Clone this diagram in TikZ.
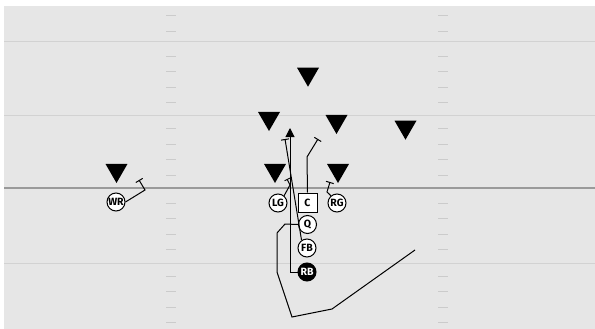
\documentclass[tikz,border=0pt]{standalone}
\usepackage{fontspec}
\setmainfont{Fira Sans}
\usetikzlibrary{arrows.meta,shapes.geometric}
\definecolor{fieldbg}{HTML}{E6E6E6}
\definecolor{yardline}{HTML}{D2D2D2}
\definecolor{losline}{HTML}{9A9A9A}
\definecolor{hashc}{HTML}{CBCBCB}
\tikzset{
  player/.style={circle,draw=black,line width=1pt,fill=white,minimum size=18pt,inner sep=0pt,font=\fontsize{10.5}{11}\selectfont\bfseries},
  rb/.style={player,fill=black,text=white},
  center/.style={rectangle,draw=black,line width=1pt,fill=white,minimum size=19pt,inner sep=0pt,font=\fontsize{10.5}{11}\selectfont\bfseries},
  defender/.style={regular polygon,regular polygon sides=3,shape border rotate=180,fill=black,minimum size=25.4pt,inner sep=0pt},
  route/.style={draw=black,line width=1pt},
  block/.style={route,-{Bar[width=8pt,line width=1pt]}},
  yl/.style={draw=yardline,line width=0.8pt},
  hash/.style={draw=hashc,line width=0.9pt}
}
\begin{document}
\begin{tikzpicture}[x=1pt,y=-1pt]
\useasboundingbox (0,0) rectangle (595,329);
\fill[white] (0,0) rectangle (595,329);
\fill[fieldbg] (4,6) rectangle (595,329);
% yard lines
\foreach \yy in {41,115,263} \draw[yl] (4,\yy) -- (595,\yy);
\draw[draw=losline,line width=1.2pt] (4,188) -- (595,188);
% hash marks
\foreach \yy in {15.3,31,56,71.7,87.3,102.7,128.7,144,159.7,175,203.3,218.7,234.3,249.3,276,291.7,307.3,322.7}{
  \draw[hash] (166,\yy) -- (176,\yy);
  \draw[hash] (438,\yy) -- (448,\yy);
}
% route end points
\coordinate (rbtip) at (290,128);
\coordinate (fbend) at (285,139);
\coordinate (lgk) at (290,185);
\coordinate (lgend) at (287,179);
\coordinate (ck) at (307,157);
\coordinate (cend) at (318,139);
\coordinate (rgk) at (327,192);
\coordinate (rgend) at (330,182);
\coordinate (wrk) at (145,190);
\coordinate (wrend) at (139,180);
\coordinate (q1) at (285,224);
\coordinate (q2) at (277,233);
\coordinate (q3) at (277,272);
\coordinate (q4) at (292,317);
\coordinate (q5) at (332,309);
\coordinate (qend) at (415,250);
% defenders
\node[defender] (d1) at (116.5,170.3) {};
\node[defender] (d2) at (275,170.3) {};
\node[defender] (d3) at (338,170.3) {};
\node[defender] (d4) at (269,118.3) {};
\node[defender] (d5) at (336.5,121.3) {};
\node[defender] (d6) at (405.5,127) {};
\node[defender] (d7) at (308,74) {};
% players
\node[player] (WR) at (116,202) {WR};
\node[player] (LG) at (278,203) {LG};
\node[center] (C) at (307.5,202.5) {C};
\node[player] (RG) at (337,203) {RG};
\node[player] (Q) at (307.5,224.5) {Q};
\node[player] (FB) at (307,248) {FB};
\node[rb] (RB) at (307,272) {RB};
% routes
\draw[route,-{Triangle[width=9pt,length=9pt]}] (RB.west) -- (290,272) -- (rbtip);
\draw[block] (FB.125) -- (fbend);
\draw[route,-{Bar[width=6pt,line width=1pt]}] (LG.50) -- (lgk) -- (lgend);
\draw[block] (C.north) -- (ck) -- (cend);
\draw[block] (RG.130) -- (rgk) -- (rgend);
\draw[block] (WR.east) -- (wrk) -- (wrend);
\draw[route] (Q.west) -- (q1) -- (q2) -- (q3) -- (q4) -- (q5) -- (qend);
\end{tikzpicture}
\end{document}
